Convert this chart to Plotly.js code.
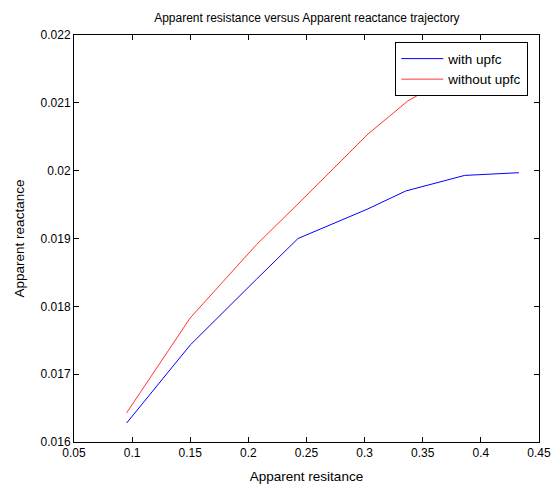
<!DOCTYPE html>
<html>
<head>
<meta charset="utf-8">
<script src="https://cdn.plot.ly/plotly-3.0.1.min.js"></script>
<style>body{margin:0;padding:0;background:#fff;} #chart{width:560px;height:488px;}</style>
</head>
<body>
<div id="chart"></div>
<script>
// Data
const withUpfcX = [0.0953, 0.150, 0.207, 0.2427, 0.302, 0.3353, 0.386, 0.4327];
const withUpfcY = [0.01628, 0.01743, 0.01840, 0.01900, 0.01943, 0.01970, 0.01993, 0.01997];
const withoutUpfcX = [0.0953, 0.150, 0.207, 0.2427, 0.3029, 0.3373, 0.386, 0.4327];
const withoutUpfcY = [0.01643, 0.01783, 0.01891, 0.01951, 0.02054, 0.02103, 0.02150, 0.02180];
const xTicks = [0.05, 0.1, 0.15, 0.2, 0.25, 0.3, 0.35, 0.4, 0.45];
const xTickText = ['0.05', '0.1', '0.15', '0.2', '0.25', '0.3', '0.35', '0.4', '0.45'];
const yTicks = [0.016, 0.017, 0.018, 0.019, 0.020, 0.021, 0.022];
const yTickText = ['0.016', '0.017', '0.018', '0.019', '0.02', '0.021', '0.022'];

const family = 'Liberation Sans, Arial, sans-serif';
const font = {family: family, size: 12, color: '#000'};
const bigFont = {family: family, size: 13.5, color: '#000'};

const traces = [
  {x: withUpfcX, y: withUpfcY, mode: 'lines', name: 'with upfc', line: {color: '#0000ff', width: 1}},
  {x: withoutUpfcX, y: withoutUpfcY, mode: 'lines', name: 'without upfc', line: {color: '#ff0000', width: 0.8}}
];

const axisCommon = {
  showgrid: false, zeroline: false, showline: true, linecolor: '#000', linewidth: 1,
  mirror: 'ticks', ticks: 'inside', ticklen: 5, tickcolor: '#000', tickwidth: 1,
  tickfont: font
};

const layout = {
  width: 560, height: 488,
  margin: {l: 74, r: 20.5, t: 35, b: 45.7, pad: 0},
  paper_bgcolor: '#fff', plot_bgcolor: '#fff',
  font: font,
  title: {text: 'Apparent resistance versus Apparent reactance trajectory', font: {family: family, size: 12, color: '#000'}, x: 0.548, xanchor: 'center', y: 0.963, yanchor: 'middle'},
  xaxis: Object.assign({}, axisCommon, {range: [0.05, 0.45], tickvals: xTicks, ticktext: xTickText,
    title: {text: 'Apparent resitance', font: bigFont, standoff: 12}}),
  yaxis: Object.assign({}, axisCommon, {range: [0.016, 0.022], tickvals: yTicks, ticktext: yTickText,
    title: {text: 'Apparent reactance', font: bigFont, standoff: 12}}),
  showlegend: true,
  legend: {x: 0.977, xanchor: 'right', y: 0.982, yanchor: 'top', bgcolor: '#fff', bordercolor: '#000', borderwidth: 1,
    font: bigFont, tracegroupgap: 0, itemwidth: 42}
};

Plotly.newPlot('chart', traces, layout, {displayModeBar: false, staticPlot: true});
</script>
</body>
</html>
